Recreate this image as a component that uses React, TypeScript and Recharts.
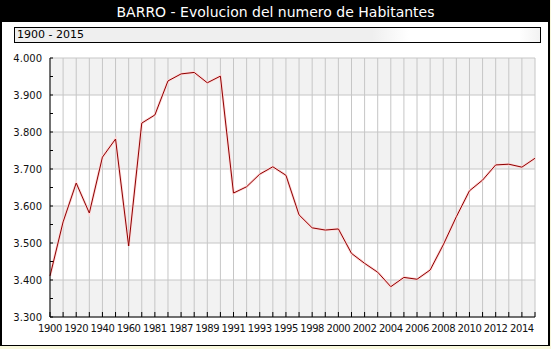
import { Line, LineChart, ReferenceArea, ReferenceLine, XAxis, YAxis } from "recharts";

const years = [
  "1900", "1910", "1920", "1930", "1940", "1950", "1960", "1970",
  "1981", "1986", "1987", "1988", "1989", "1990", "1991", "1992",
  "1993", "1994", "1995", "1996", "1998", "1999", "2000", "2001",
  "2002", "2003", "2004", "2005", "2006", "2007", "2008", "2009",
  "2010", "2011", "2012", "2013", "2014", "2015",
];

const habitantes = [
  3411, 3557, 3662, 3581, 3732, 3781, 3492, 3824,
  3846, 3938, 3957, 3961, 3933, 3951, 3635, 3652,
  3686, 3706, 3683, 3576, 3541, 3535, 3538, 3472,
  3445, 3421, 3382, 3407, 3402, 3427, 3495, 3571,
  3641, 3670, 3711, 3713, 3705, 3729,
];

const yTicks = [3300, 3350, 3400, 3450, 3500, 3550, 3600, 3650, 3700, 3750, 3800, 3850, 3900, 3950, 4000];
const yGridValues = [3300, 3400, 3500, 3600, 3700, 3800, 3900, 4000];
// shaded bands (every other 100)
const bandStarts = [3300, 3500, 3700, 3900];

const data = years.map((year, i) => ({ year, value: habitantes[i] }));

const fmtY = (v: number) => (v % 100 === 0 ? (v / 1000).toFixed(3) : "");
const fmtX = (v: string, i: number) => (i % 2 === 0 ? v : "");

export default function App() {
  return (
    <div
      style={{
        position: "absolute",
        left: 0,
        top: 0,
        width: 551,
        height: 349,
        background: "#f7f7dc",
        fontFamily: "'DejaVu Sans', sans-serif",
      }}
    >
      <div style={{ position: "absolute", left: 0, top: 0, width: 550, height: 346, background: "#000" }} />
      <div style={{ position: "absolute", left: 2, top: 22, width: 546, height: 323, background: "#fff" }} />
      <div
        style={{
          position: "absolute",
          left: 0,
          top: 1,
          width: 551,
          lineHeight: "23px",
          textAlign: "center",
          color: "#fff",
          fontSize: 14,
        }}
      >
        BARRO - Evolucion del numero de Habitantes
      </div>
      <div
        style={{
          position: "absolute",
          left: 14,
          top: 27,
          width: 527,
          height: 16,
          boxSizing: "border-box",
          border: "1px solid #000",
          background: "linear-gradient(to right, #efefef 0%, #efefef 68%, #ffffff 75%, #ffffff 96%, #f2f2f2 100%)",
          fontSize: 11,
          lineHeight: "14px",
          paddingLeft: 2,
          color: "#000",
        }}
      >
        1900 - 2015
      </div>
      <LineChart
        width={551}
        height={349}
        data={data}
        margin={{ top: 58, right: 16, left: 0, bottom: 0 }}
        style={{ position: "absolute", left: 0, top: 0 }}
      >
        {bandStarts.map((v) => (
          <ReferenceArea key={"b" + v} y1={v} y2={v + 100} fill="#f2f2f2" fillOpacity={1} stroke="none" />
        ))}
        {years.map((y) => (
          <ReferenceLine key={"x" + y} x={y} stroke="#c6c6c6" />
        ))}
        {yGridValues.map((v) => (
          <ReferenceLine key={"y" + v} y={v} stroke="#c6c6c6" />
        ))}
        <XAxis
          dataKey="year"
          interval={0}
          height={32}
          tickFormatter={fmtX}
          tickSize={-5}
          tickMargin={13}
          axisLine={{ stroke: "#000" }}
          tickLine={{ stroke: "#000" }}
          tick={{ fill: "#111", fontSize: 10, letterSpacing: -0.4 }}
        />
        <YAxis
          domain={[3300, 4000]}
          ticks={yTicks}
          interval={0}
          width={50}
          tickFormatter={fmtY}
          tickSize={-3}
          tickMargin={11}
          axisLine={{ stroke: "#000" }}
          tickLine={{ stroke: "#000" }}
          tick={{ fill: "#111", fontSize: 10 }}
        />
        <Line
          type="linear"
          dataKey="value"
          stroke="#ffd6d6"
          strokeWidth={2.6}
          dot={false}
          activeDot={false}
          isAnimationActive={false}
        />
        <Line
          type="linear"
          dataKey="value"
          stroke="#8c0000"
          strokeWidth={1}
          dot={false}
          activeDot={false}
          isAnimationActive={false}
        />
      </LineChart>
    </div>
  );
}
